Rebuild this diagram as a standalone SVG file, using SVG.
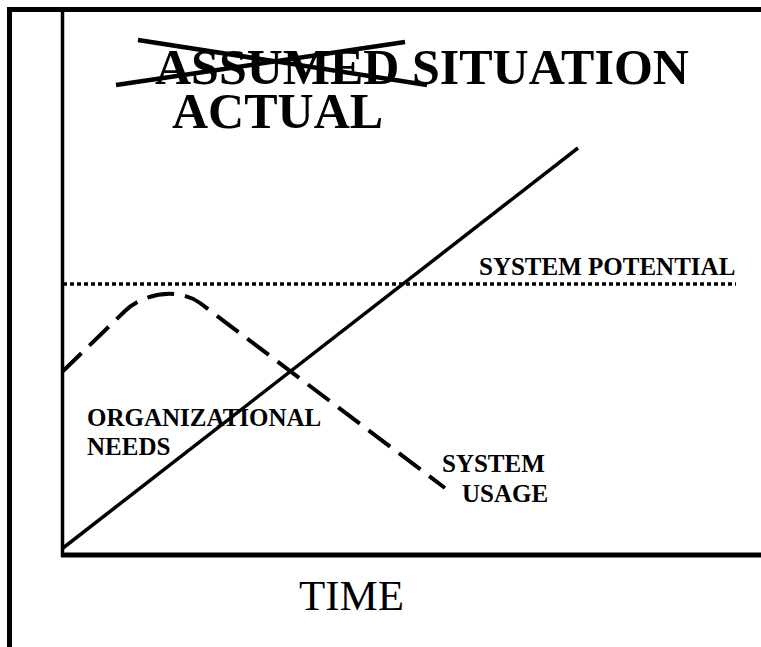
<svg xmlns="http://www.w3.org/2000/svg" width="761" height="647" viewBox="0 0 761 647">
  <style>
    .frame { stroke: #000; fill: none; stroke-linecap: butt; }
    .bold { font-family: "Liberation Serif", "Times New Roman", serif; font-weight: bold; fill: #000; }
    .reg { font-family: "Liberation Serif", "Times New Roman", serif; fill: #000; }
  </style>
  <rect width="761" height="647" fill="#fff"/>
  <g id="frame">
    <line class="frame" x1="7" y1="9.5" x2="761" y2="9.5" stroke-width="5"/>
    <line class="frame" x1="9.5" y1="7" x2="9.5" y2="647" stroke-width="5"/>
    <line class="frame" x1="62.5" y1="12" x2="62.5" y2="557" stroke-width="3.5"/>
    <line class="frame" x1="61" y1="555" x2="761" y2="555" stroke-width="5"/>
  </g>
  <g id="title">
    <text class="bold" x="155" y="84" font-size="50">ASSUMED SITUATION</text>
    <line x1="116" y1="85" x2="405" y2="42" stroke="#000" stroke-width="4.5"/>
    <line x1="138" y1="40" x2="427" y2="85" stroke="#000" stroke-width="4.5"/>
    <text class="bold" x="172" y="128" font-size="50">ACTUAL</text>
  </g>
  <g id="connectors">
    <line id="system-potential-line" x1="63" y1="284" x2="736" y2="284" stroke="#000" stroke-width="3.5" stroke-dasharray="4 3"/>
    <line id="organizational-needs-line" x1="63" y1="548" x2="578" y2="148" stroke="#000" stroke-width="3.5"/>
    <path id="system-usage-curve" d="M62,372 L125,311 C145,292 180,288 200,303 L445,488" fill="none" stroke="#000" stroke-width="4" stroke-dasharray="27 11"/>
  </g>
  <g id="label-system-potential">
    <text class="bold" x="479" y="275" font-size="25">SYSTEM POTENTIAL</text>
  </g>
  <g id="label-organizational-needs">
    <text class="bold" x="87" y="426" font-size="25">ORGANIZATIONAL</text>
    <text class="bold" x="87" y="455" font-size="25">NEEDS</text>
  </g>
  <g id="label-system-usage">
    <text class="bold" x="442" y="472" font-size="25">SYSTEM</text>
    <text class="bold" x="462" y="502" font-size="25">USAGE</text>
  </g>
  <g id="label-time">
    <text class="reg" x="299" y="610" font-size="43">TIME</text>
  </g>
</svg>
